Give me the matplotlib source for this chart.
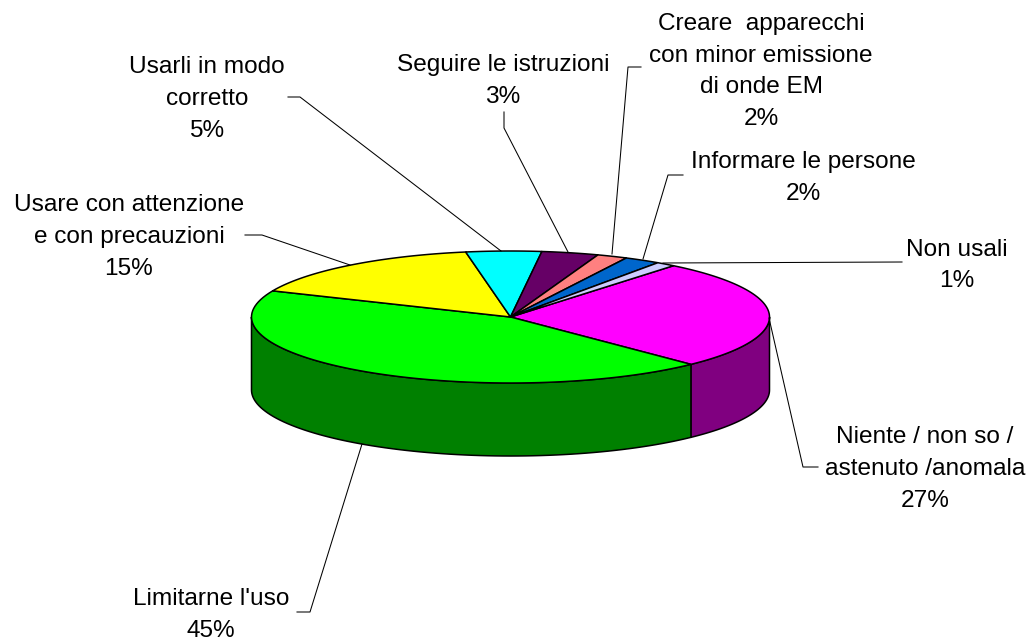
import numpy as np
import matplotlib
matplotlib.use("Agg")
import matplotlib.pyplot as plt
from matplotlib.patches import Polygon

labels = ["Niente / non so /\nastenuto /anomala", "Limitarne l'uso", "Usare con attenzione\ne con precauzioni",
          "Usarli in modo\ncorretto", "Seguire le istruzioni", "Creare  apparecchi\ncon minor emissione\ndi onde EM",
          "Informare le persone", "Non usali"]
# Percentages as printed on the chart
percent_labels = [27, 45, 15, 5, 3, 2, 2, 1]
# Slice shares
slice_shares = [26.9, 43.75, 15.75, 4.7, 3.55, 1.9, 2.25, 1.2]
top_colors = ["#FF00FF", "#00FF00", "#FFFF00", "#00FFFF", "#660066", "#FF8080", "#0066CC", "#CCCCFF"]
side_colors = ["#800080", "#008000", "#808000", "#008080", "#330033", "#804040", "#003366", "#666680"]
label_xy = [(925, 469), (211, 615), (129, 237), (207, 99), (503, 81), (761, 71.5), (803, 178), (957, 265.5)]
leader_paths = [[(769, 318), (803, 467), (818, 467)], [(362, 444), (310, 612), (297, 612)],
                [(350, 265), (262, 235), (245, 235)], [(501, 251), (300, 97), (288, 97)],
                [(568, 252), (504, 128), (504, 112)], [(612, 254), (628, 67), (641, 67)],
                [(643, 259), (668, 175), (683, 175)], [(663, 263), (902, 262)]]

cx, cy, rx, ry, depth = 510.5, 317, 259, 66, 73
start = 39.0

fig = plt.figure(figsize=(10.29, 6.40), dpi=100, facecolor="white")
ax = fig.add_axes([0, 0, 1, 1])
ax.set_xlim(0, 1029)
ax.set_ylim(640, 0)
ax.axis("off")


def ell(t_deg, dy=0):
    t = np.radians(t_deg)
    return np.column_stack([cx + rx * np.sin(t), cy - ry * np.cos(t) + dy])


edges = start + np.concatenate([[0], np.cumsum(slice_shares)]) * 360 / np.sum(slice_shares)
for a, b, side in zip(edges[:-1], edges[1:], side_colors):
    lo, hi = max(a, 90), min(b, 270)
    if hi > lo:
        t = np.linspace(lo, hi, 80)
        pts = np.vstack([ell(t), ell(t[::-1], depth)])
        ax.add_patch(Polygon(pts, closed=True, fc=side, ec="black", lw=1.1, joinstyle="round", zorder=2))
for a, b, col in zip(edges[:-1], edges[1:], top_colors):
    t = np.linspace(a, b, 80)
    pts = np.vstack([[(cx, cy)], ell(t)])
    ax.add_patch(Polygon(pts, closed=True, fc=col, ec="black", lw=1.1, joinstyle="round", zorder=3))

for path in leader_paths:
    xs, ys = zip(*path)
    ax.plot(xs, ys, color="black", lw=0.75, zorder=4)

for lab, v, (x, y) in zip(labels, percent_labels, label_xy):
    ax.text(x, y, f"{lab}\n{v}%", ha="center", va="center", fontsize=17.6, family="Liberation Sans",
            linespacing=1.57, color="black", zorder=5)

fig.savefig("out.png", dpi=100, facecolor="white")
